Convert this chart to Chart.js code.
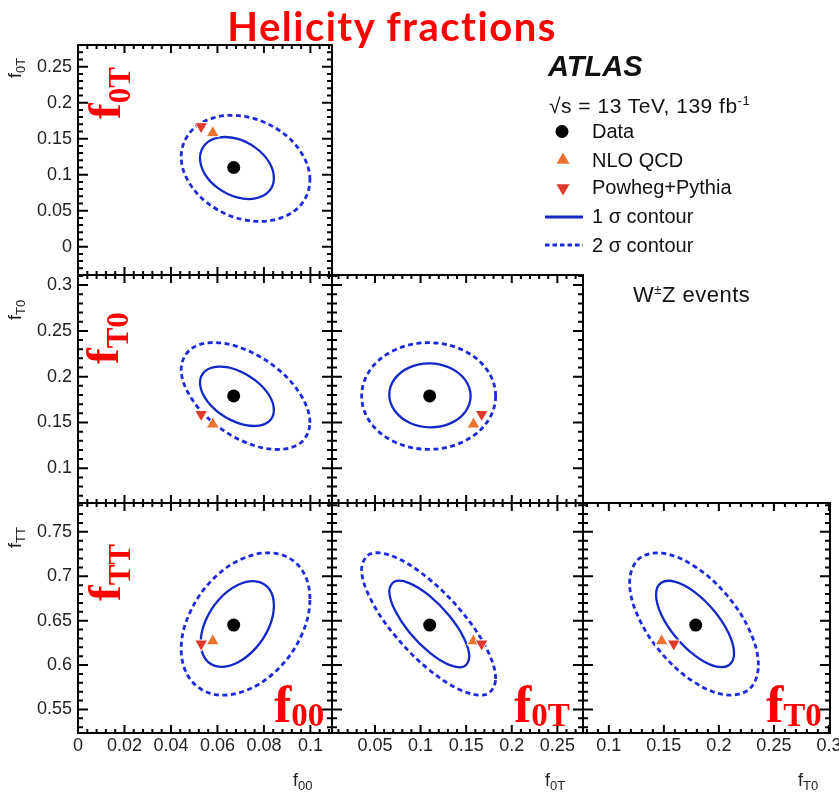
<!DOCTYPE html>
<html lang="en">
<head>
<meta charset="UTF-8">
<meta name="viewport" content="width=device-width, initial-scale=1.0">
<title>Helicity fractions</title>
<script src="https://cdn.jsdelivr.net/npm/chart.js"></script>
<style>
  body { margin: 0; background: #fff; overflow: hidden; }
  #wrap { position: relative; width: 839px; height: 795px; overflow: hidden;
          font-family: 'Liberation Sans', Arial, sans-serif; color: #111; }
  #wrap canvas { position: absolute; left: 0; top: 0; }
  .t { position: absolute; white-space: nowrap; }
  .title { left: 392px; top: 6px; transform: translateX(-50%); font: bold 40px Lato, sans-serif;
           line-height: 40px; letter-spacing: 1.5px; color: #ff0000; }
  .atlas { left: 548px; top: 52px; font-size: 29px; line-height: 29px; font-weight: bold; font-style: italic; }
  .leg { font-size: 20px; line-height: 20px; }
  .sup { font-size: 13px; position: relative; top: -8px; }
  .axt { font-size: 18px; line-height: 18px; color: #222; }
  .axt .sb { font-size: 13px; position: relative; top: 4px; }
  .rot { transform-origin: 0 0; transform: rotate(-90deg); }
  .red { color: #ff0000; font-family: 'Liberation Serif', 'Times New Roman', serif; font-weight: bold; }
  .big { font-size: 52px; line-height: 52px; }
  .big .sb { font-size: 33px; position: relative; top: 4px; }
  .mid { font-size: 47px; line-height: 47px; }
  .mid .sb { font-size: 31px; position: relative; top: 10px; }
</style>
</head>
<body>
<div id="wrap">
  <div class="t title">Helicity fractions</div>

  <svg class="t" width="839" height="300" style="left:0;top:0">
    <circle cx="562" cy="131.5" r="6.5" fill="#000"/>
    <polygon points="563,152.5 569.5,163.75 556.5,163.75" fill="#ea7330"/>
    <polygon points="563,195.5 569.5,184.25 556.5,184.25" fill="#e0392b"/>
    <line x1="545" y1="217" x2="583" y2="217" stroke="#1428c8" stroke-width="3"/>
    <line x1="545" y1="245" x2="583" y2="245" stroke="#1e28dc" stroke-width="3" stroke-dasharray="4.5 3"/>
  </svg>
  <div class="t atlas">ATLAS</div>
  <div class="t leg" style="left:549px;top:95px;font-size:21px;line-height:21px;letter-spacing:0.5px">√s = 13 TeV, 139 fb<span class="sup">-1</span></div>
  <div class="t leg" style="left:592px;top:121px">Data</div>
  <div class="t leg" style="left:592px;top:150px">NLO QCD</div>
  <div class="t leg" style="left:592px;top:177px">Powheg+Pythia</div>
  <div class="t leg" style="left:592px;top:206px">1 σ contour</div>
  <div class="t leg" style="left:592px;top:235px">2 σ contour</div>
  <div class="t leg" style="left:633px;top:284px;font-size:22px;line-height:22px;letter-spacing:0.5px">W<span class="sup" style="top:-8px">±</span>Z events</div>

  <!-- axis titles -->
  <div class="t axt" style="left:293px;top:771px">f<span class="sb">00</span></div>
  <div class="t axt" style="left:545px;top:771px">f<span class="sb">0T</span></div>
  <div class="t axt" style="left:798px;top:771px">f<span class="sb">T0</span></div>
  <div class="t axt rot" style="left:6px;top:78px">f<span class="sb">0T</span></div>
  <div class="t axt rot" style="left:6px;top:320px">f<span class="sb">T0</span></div>
  <div class="t axt rot" style="left:6px;top:548px">f<span class="sb">TT</span></div>

  <!-- red annotations -->
  <div class="t red mid rot" style="left:81px;top:119px">f<span class="sb">0T</span></div>
  <div class="t red mid rot" style="left:79px;top:364px">f<span class="sb">T0</span></div>
  <div class="t red mid rot" style="left:81px;top:601px">f<span class="sb">TT</span></div>
  <div class="t red big" style="left:274px;top:679px">f<span class="sb">00</span></div>
  <div class="t red big" style="left:514px;top:679px">f<span class="sb">0T</span></div>
  <div class="t red big" style="left:766px;top:679px">f<span class="sb">T0</span></div>
</div>

<script>
// measured fractions and predictions, order: f00, f0T, fT0, fTT
const fractions = ['f00', 'f0T', 'fT0', 'fTT'];
const dataValues = [0.067, 0.110, 0.179, 0.645];
const nloQcd = [0.058, 0.158, 0.148, 0.627];
const powhegPythia = [0.053, 0.167, 0.159, 0.624];

// axes: columns are f00, f0T, fT0 ; rows are f0T, fT0, fTT
const colRanges = [[0, 0.1093], [0.0029, 0.2781], [0.0765, 0.301]];
const rowRanges = [[-0.0393, 0.2801], [0.0621, 0.311], [0.5235, 0.7825]];
const colTicks = [[0, 0.02, 0.04, 0.06, 0.08, 0.1], [0.05, 0.1, 0.15, 0.2, 0.25], [0.1, 0.15, 0.2, 0.25, 0.3]];
const rowTicks = [[0, 0.05, 0.1, 0.15, 0.2, 0.25], [0.1, 0.15, 0.2, 0.25, 0.3], [0.55, 0.6, 0.65, 0.7, 0.75]];
const colMinor = [0.004, 0.01, 0.01];
const rowMinor = [0.01, 0.01, 0.01];

// contours (1 sigma solid, 2 sigma dashed)
const f00_f0T_1s_x = [0.0843, 0.0822, 0.0763, 0.0684, 0.0604, 0.0546, 0.0525, 0.0546, 0.0604, 0.0684, 0.0763, 0.0822];
const f00_f0T_1s_y = [0.0954, 0.1176, 0.1376, 0.1500, 0.1515, 0.1417, 0.1231, 0.1009, 0.0809, 0.0685, 0.0670, 0.0769];
const f00_f0T_2s_x = [0.0998, 0.0961, 0.0860, 0.0721, 0.0583, 0.0482, 0.0444, 0.0482, 0.0583, 0.0721, 0.0860, 0.0961];
const f00_f0T_2s_y = [0.0926, 0.1306, 0.1628, 0.1806, 0.1790, 0.1587, 0.1250, 0.0869, 0.0548, 0.0370, 0.0386, 0.0589];

const f00_fT0_1s_x = [0.0843, 0.0822, 0.0763, 0.0684, 0.0604, 0.0546, 0.0525, 0.0546, 0.0604, 0.0684, 0.0763, 0.0822];
const f00_fT0_1s_y = [0.1636, 0.1800, 0.1960, 0.2073, 0.2109, 0.2058, 0.1934, 0.1771, 0.1611, 0.1498, 0.1462, 0.1512];
const f00_fT0_2s_x = [0.0998, 0.0961, 0.0860, 0.0721, 0.0583, 0.0482, 0.0444, 0.0482, 0.0583, 0.0721, 0.0860, 0.0961];
const f00_fT0_2s_y = [0.1498, 0.1790, 0.2082, 0.2295, 0.2373, 0.2294, 0.2080, 0.1788, 0.1496, 0.1283, 0.1205, 0.1284];

const f00_fTT_1s_x = [0.0843, 0.0822, 0.0764, 0.0685, 0.0606, 0.0549, 0.0528, 0.0549, 0.0606, 0.0685, 0.0764, 0.0822];
const f00_fTT_1s_y = [0.6669, 0.6859, 0.6943, 0.6898, 0.6736, 0.6502, 0.6256, 0.6066, 0.5982, 0.6027, 0.6188, 0.6423];
const f00_fTT_2s_x = [0.0998, 0.0961, 0.0860, 0.0721, 0.0583, 0.0482, 0.0444, 0.0482, 0.0583, 0.0721, 0.0860, 0.0961];
const f00_fTT_2s_y = [0.6744, 0.7082, 0.7253, 0.7213, 0.6972, 0.6594, 0.6181, 0.5843, 0.5672, 0.5712, 0.5953, 0.6331];

const f0T_fT0_1s_x = [0.1549, 0.1489, 0.1326, 0.1103, 0.0880, 0.0717, 0.0657, 0.0717, 0.0880, 0.1103, 0.1326, 0.1489];
const f0T_fT0_1s_y = [0.1789, 0.1965, 0.2095, 0.2146, 0.2102, 0.1977, 0.1803, 0.1628, 0.1497, 0.1447, 0.1490, 0.1615];
const f0T_fT0_2s_x = [0.1823, 0.1725, 0.1456, 0.1088, 0.0721, 0.0452, 0.0354, 0.0452, 0.0721, 0.1088, 0.1456, 0.1725];
const f0T_fT0_2s_y = [0.1789, 0.2080, 0.2293, 0.2371, 0.2293, 0.2080, 0.1789, 0.1498, 0.1285, 0.1207, 0.1285, 0.1498];

const f0T_fTT_1s_x = [0.1534, 0.1476, 0.1315, 0.1096, 0.0876, 0.0716, 0.0657, 0.0716, 0.0876, 0.1096, 0.1315, 0.1476];
const f0T_fTT_1s_y = [0.6095, 0.6303, 0.6555, 0.6782, 0.6923, 0.6941, 0.6830, 0.6622, 0.6370, 0.6143, 0.6002, 0.5984];
const f0T_fTT_2s_x = [0.1823, 0.1725, 0.1456, 0.1088, 0.0721, 0.0452, 0.0354, 0.0452, 0.0721, 0.1088, 0.1456, 0.1725];
const f0T_fTT_2s_y = [0.5843, 0.6181, 0.6595, 0.6973, 0.7214, 0.7254, 0.7082, 0.6744, 0.6330, 0.5952, 0.5711, 0.5671];

const fT0_fTT_1s_x = [0.2138, 0.2090, 0.1960, 0.1783, 0.1606, 0.1476, 0.1429, 0.1476, 0.1606, 0.1783, 0.1960, 0.2090];
const fT0_fTT_1s_y = [0.6132, 0.6355, 0.6606, 0.6819, 0.6937, 0.6927, 0.6793, 0.6570, 0.6319, 0.6106, 0.5988, 0.5998];
const fT0_fTT_2s_x = [0.2359, 0.2280, 0.2067, 0.1774, 0.1482, 0.1268, 0.1189, 0.1268, 0.1482, 0.1774, 0.2067, 0.2280];
const fT0_fTT_2s_y = [0.5997, 0.6386, 0.6795, 0.7116, 0.7261, 0.7192, 0.6928, 0.6539, 0.6130, 0.5809, 0.5664, 0.5733];

// page layout (pixels)
const W = 839, H = 795;
const colEdges = [78, 332, 583, 830];
const rowEdges = [45, 275, 503, 733];
const yAxisW = 70, xAxisH = 45;

const panels = [
  { col: 0, row: 0, s1: [f00_f0T_1s_x, f00_f0T_1s_y], s2: [f00_f0T_2s_x, f00_f0T_2s_y] },
  { col: 0, row: 1, s1: [f00_fT0_1s_x, f00_fT0_1s_y], s2: [f00_fT0_2s_x, f00_fT0_2s_y] },
  { col: 0, row: 2, s1: [f00_fTT_1s_x, f00_fTT_1s_y], s2: [f00_fTT_2s_x, f00_fTT_2s_y] },
  { col: 1, row: 1, s1: [f0T_fT0_1s_x, f0T_fT0_1s_y], s2: [f0T_fT0_2s_x, f0T_fT0_2s_y] },
  { col: 1, row: 2, s1: [f0T_fTT_1s_x, f0T_fTT_1s_y], s2: [f0T_fTT_2s_x, f0T_fTT_2s_y] },
  { col: 2, row: 2, s1: [fT0_fTT_1s_x, fT0_fTT_1s_y], s2: [fT0_fTT_2s_x, fT0_fTT_2s_y] }
];

const pts = (xs, ys) => xs.map((x, i) => ({ x: x, y: ys[i] }));

// ROOT style frame with inward ticks on all four sides
const framePlugin = {
  id: 'frame',
  afterDraw(chart, args, opts) {
    const { ctx, chartArea: a } = chart;
    const sx = chart.scales.x, sy = chart.scales.y;
    ctx.save();
    ctx.strokeStyle = '#000';
    ctx.lineWidth = 2;
    ctx.beginPath();
    const doAxis = (scale, step, horiz, majorLen, minorLen) => {
      const k0 = Math.ceil(scale.min / step - 1e-6), k1 = Math.floor(scale.max / step + 1e-6);
      for (let k = k0; k <= k1; k++) {
        const v = k * step;
        const major = scale.ticks.some(t => Math.abs(t.value - v) < step / 10);
        const len = major ? majorLen : minorLen;
        const p = scale.getPixelForValue(v);
        if (horiz) {
          ctx.moveTo(p, a.bottom); ctx.lineTo(p, a.bottom - len);
          ctx.moveTo(p, a.top); ctx.lineTo(p, a.top + len);
        } else {
          ctx.moveTo(a.left, p); ctx.lineTo(a.left + len, p);
          ctx.moveTo(a.right, p); ctx.lineTo(a.right - len, p);
        }
      }
    };
    doAxis(sx, opts.xMinor, true, 8, 4);
    doAxis(sy, opts.yMinor, false, 10, 5);
    ctx.stroke();
    ctx.strokeRect(a.left, a.top, a.right - a.left, a.bottom - a.top);
    ctx.restore();
  }
};

// close the contour lines on themselves
const loopPlugin = {
  id: 'closeLoop',
  afterDatasetsUpdate(chart) {
    chart.data.datasets.forEach((ds, i) => {
      if (!ds.closed) return;
      const line = chart.getDatasetMeta(i).dataset;
      if (line) { line._loop = true; line._fullLoop = true; }
    });
  }
};

function axisOpts(range, ticks, showLabels, horiz) {
  return {
    type: 'linear',
    min: range[0],
    max: range[1],
    grid: { display: false, drawTicks: false },
    border: { display: false },
    afterBuildTicks: s => { s.ticks = ticks.map(v => ({ value: v })); },
    afterFit: s => {
      if (horiz) s.height = xAxisH; else s.width = yAxisW;
      s.paddingLeft = s.paddingRight = s.paddingTop = s.paddingBottom = 0;
    },
    ticks: {
      display: showLabels,
      autoSkip: false,
      maxRotation: 0,
      minRotation: 0,
      padding: horiz ? 2 : 6,
      color: '#222',
      font: { family: "'Liberation Sans', Arial, sans-serif", size: 18 },
      callback: v => String(v)
    }
  };
}

const wrap = document.getElementById('wrap');
const firstText = wrap.querySelector('.title');

panels.forEach(p => {
  const cv = document.createElement('canvas');
  cv.width = W;
  cv.height = H;
  wrap.insertBefore(cv, firstText);
  const xi = p.col, yi = p.row + 1;

  new Chart(cv, {
    type: 'line',
    data: {
      datasets: [
        {
          label: 'Data',
          data: [{ x: dataValues[xi], y: dataValues[yi] }],
          showLine: false, pointRadius: 6.5, pointBackgroundColor: '#000', pointBorderWidth: 0, order: 0
        },
        {
          label: 'Powheg+Pythia',
          data: [{ x: powhegPythia[xi], y: powhegPythia[yi] }],
          showLine: false, pointStyle: 'triangle', rotation: 180, pointRadius: 7.5,
          pointBackgroundColor: '#e0392b', pointBorderColor: '#fff', pointBorderWidth: 1, order: 1
        },
        {
          label: 'NLO QCD',
          data: [{ x: nloQcd[xi], y: nloQcd[yi] }],
          showLine: false, pointStyle: 'triangle', pointRadius: 7.5,
          pointBackgroundColor: '#ea7330', pointBorderColor: '#fff', pointBorderWidth: 1, order: 2
        },
        {
          label: '1 sigma contour',
          data: pts(p.s1[0], p.s1[1]),
          closed: true, borderColor: '#1428c8', borderWidth: 2.3, pointRadius: 0, tension: 0.36, fill: false, order: 3
        },
        {
          label: '2 sigma contour',
          data: pts(p.s2[0], p.s2[1]),
          closed: true, borderColor: '#1e28dc', borderWidth: 2.8, borderDash: [5, 3.5], pointRadius: 0, tension: 0.36, fill: false, order: 4
        }
      ]
    },
    options: {
      responsive: false,
      animation: false,
      events: [],
      layout: {
        padding: {
          left: colEdges[p.col] - yAxisW, right: W - colEdges[p.col + 1],
          top: rowEdges[p.row], bottom: H - rowEdges[p.row + 1] - xAxisH
        }
      },
      plugins: {
        legend: { display: false },
        tooltip: { enabled: false },
        frame: { xMinor: colMinor[p.col], yMinor: rowMinor[p.row] }
      },
      scales: {
        x: axisOpts(colRanges[p.col], colTicks[p.col], p.row === 2, true),
        y: axisOpts(rowRanges[p.row], rowTicks[p.row], p.col === 0, false)
      }
    },
    plugins: [framePlugin, loopPlugin]
  });
});
</script>
</body>
</html>
